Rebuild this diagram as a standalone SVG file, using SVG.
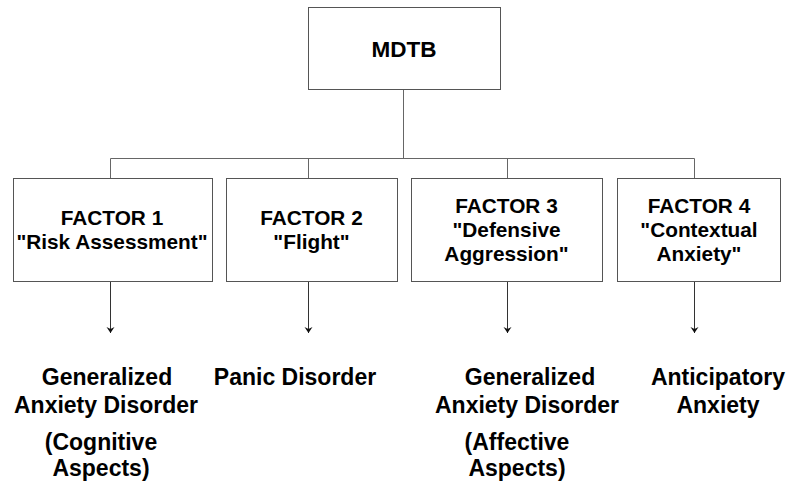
<svg xmlns="http://www.w3.org/2000/svg" width="787" height="485" viewBox="0 0 787 485">
<style>
.box{fill:#fff;stroke:#555;stroke-width:1}
.ln{fill:none;stroke:#666;stroke-width:1}
.ar{fill:none;stroke:#333;stroke-width:1}
text{font-family:"Liberation Sans",Arial,sans-serif;font-weight:bold;fill:#000;text-anchor:middle}
.t1{font-size:22.5px}
.t2{font-size:20.8px}
.t3{font-size:23px}
</style>
<defs>
<marker id="ah" viewBox="-5 -7 10 8" refX="0" refY="0" markerWidth="10" markerHeight="8" markerUnits="userSpaceOnUse" orient="0">
<path d="M-4,-6 L0,0 L4,-6 L0,-4 Z" fill="#111"/>
</marker>
</defs>
<rect width="787" height="485" fill="#fff"/>
<g id="connectors">
<path class="ln" d="M403.5,89 V158.5 M110.5,158.5 H694.5 M110.5,158.5 V178 M308.5,158.5 V178 M507.5,158.5 V178 M694.5,158.5 V178"/>
<path class="ar" d="M110.5,281 V333" marker-end="url(#ah)"/>
<path class="ar" d="M308.5,281 V333" marker-end="url(#ah)"/>
<path class="ar" d="M507.5,281 V333" marker-end="url(#ah)"/>
<path class="ar" d="M694.5,281 V333" marker-end="url(#ah)"/>
</g>
<g id="mdtb">
<rect class="box" x="308.5" y="7.5" width="192" height="82"/>
<text class="t1" x="404" y="57">MDTB</text>
</g>
<g id="factor1">
<rect class="box" x="13.5" y="178.5" width="199" height="103"/>
<text class="t2" x="112" y="225">FACTOR 1</text>
<text class="t2" x="112" y="249">"Risk Assessment"</text>
</g>
<g id="factor2">
<rect class="box" x="226.5" y="178.5" width="171" height="103"/>
<text class="t2" x="311.5" y="225">FACTOR 2</text>
<text class="t2" x="311.5" y="249">"Flight"</text>
</g>
<g id="factor3">
<rect class="box" x="411.5" y="178.5" width="191" height="103"/>
<text class="t2" x="506.5" y="213">FACTOR 3</text>
<text class="t2" x="506.5" y="237">"Defensive</text>
<text class="t2" x="506.5" y="261">Aggression"</text>
</g>
<g id="factor4">
<rect class="box" x="617.5" y="178.5" width="163" height="103"/>
<text class="t2" x="699" y="213">FACTOR 4</text>
<text class="t2" x="699" y="237">"Contextual</text>
<text class="t2" x="699" y="261">Anxiety"</text>
</g>
<g id="outcome1">
<text class="t3" x="107" y="385">Generalized</text>
<text class="t3" x="106" y="413">Anxiety Disorder</text>
<text class="t3" x="101" y="450">(Cognitive</text>
<text class="t3" x="101" y="476">Aspects)</text>
</g>
<g id="outcome2">
<text class="t3" x="295" y="385">Panic Disorder</text>
</g>
<g id="outcome3">
<text class="t3" x="530" y="385">Generalized</text>
<text class="t3" x="527" y="413">Anxiety Disorder</text>
<text class="t3" x="517" y="450">(Affective</text>
<text class="t3" x="517" y="476">Aspects)</text>
</g>
<g id="outcome4">
<text class="t3" x="718" y="385">Anticipatory</text>
<text class="t3" x="718" y="413">Anxiety</text>
</g>
</svg>
